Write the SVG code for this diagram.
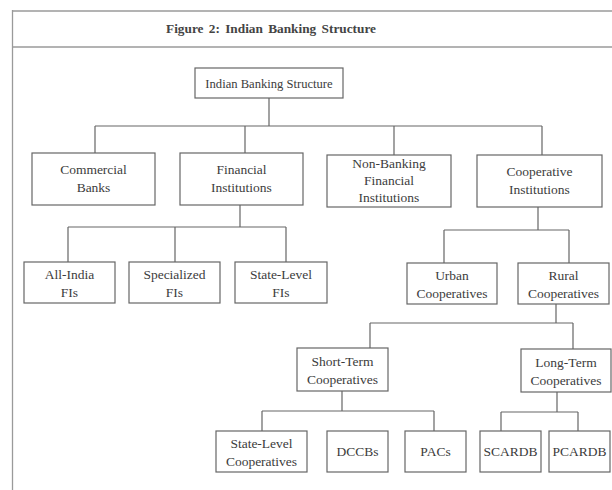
<svg xmlns="http://www.w3.org/2000/svg" width="612" height="490" viewBox="0 0 612 490">
<style>
.frame{stroke:#9a9a9a;stroke-width:1.3;fill:none}
.box{fill:#fff;stroke:#666;stroke-width:1.2}
.t{font-family:"Liberation Serif","Times New Roman",serif;font-size:13.5px;fill:#3c3c3c;text-anchor:middle}
.r{font-size:12.6px}
.title{font-family:"Liberation Serif","Times New Roman",serif;font-size:13.3px;font-weight:bold;fill:#444;text-anchor:middle;word-spacing:2px}
#connectors path{stroke:#666;stroke-width:1.2;fill:none}
</style>
<rect width="612" height="490" fill="#fff"/>
<g id="frame">
<path class="frame" d="M12.5,10 V490 M12,11 H612 M12,47 H612"/>
<text class="title" x="271" y="33">Figure 2: Indian Banking Structure</text>
</g>
<g id="connectors">
<path d="M269,98 V126 M95,126 H542 M95,126 V153 M245,126 V153 M394,126 V155 M542,126 V155"/>
<path d="M240,205 V227 M68,227 H286 M68,227 V262 M175,227 V262 M286,227 V262"/>
<path d="M538,207 V230 M444,230 H569 M444,230 V263 M569,230 V263"/>
<path d="M556,304 V323 M370,323 H573 M370,323 V348 M573,323 V349"/>
<path d="M342,391 V411 M262,411 H434 M262,411 V431 M434,411 V431"/>
<path d="M557,392 V412 M501,412 H578 M501,412 V431 M578,412 V431"/>
</g>
<g id="root"><rect class="box" x="195" y="68" width="148" height="30"/><text class="t r" x="269" y="87.5">Indian Banking Structure</text></g>
<g id="commercial"><rect class="box" x="32" y="153" width="123" height="52"/><text class="t" x="93.5" y="174">Commercial</text><text class="t" x="93.5" y="192">Banks</text></g>
<g id="financial"><rect class="box" x="180" y="153" width="123" height="52"/><text class="t" x="241.5" y="174">Financial</text><text class="t" x="241.5" y="192">Institutions</text></g>
<g id="nbfi"><rect class="box" x="327" y="155" width="124" height="52"/><text class="t" x="389" y="167.5">Non-Banking</text><text class="t" x="389" y="184.5">Financial</text><text class="t" x="389" y="201.5">Institutions</text></g>
<g id="cooperative"><rect class="box" x="477" y="155" width="125" height="52"/><text class="t" x="539.5" y="176">Cooperative</text><text class="t" x="539.5" y="194">Institutions</text></g>
<g id="allindia"><rect class="box" x="24" y="262" width="91" height="41"/><text class="t" x="69.5" y="278.5">All-India</text><text class="t" x="69.5" y="296.5">FIs</text></g>
<g id="specialized"><rect class="box" x="129" y="262" width="91" height="41"/><text class="t" x="174.5" y="278.5">Specialized</text><text class="t" x="174.5" y="296.5">FIs</text></g>
<g id="statefi"><rect class="box" x="235" y="262" width="92" height="41"/><text class="t" x="281" y="278.5">State-Level</text><text class="t" x="281" y="296.5">FIs</text></g>
<g id="urban"><rect class="box" x="407" y="263" width="90" height="41"/><text class="t" x="452" y="279.5">Urban</text><text class="t" x="452" y="297.5">Cooperatives</text></g>
<g id="rural"><rect class="box" x="518" y="263" width="91" height="41"/><text class="t" x="563.5" y="279.5">Rural</text><text class="t" x="563.5" y="297.5">Cooperatives</text></g>
<g id="shortterm"><rect class="box" x="297" y="348" width="91" height="43"/><text class="t" x="342.5" y="366">Short-Term</text><text class="t" x="342.5" y="384">Cooperatives</text></g>
<g id="longterm"><rect class="box" x="521" y="349" width="90" height="43"/><text class="t" x="566" y="367">Long-Term</text><text class="t" x="566" y="385">Cooperatives</text></g>
<g id="statecoop"><rect class="box" x="216" y="431" width="91" height="41"/><text class="t" x="261.5" y="447.5">State-Level</text><text class="t" x="261.5" y="465.5">Cooperatives</text></g>
<g id="dccbs"><rect class="box" x="327" y="431" width="61" height="41"/><text class="t" x="357.5" y="456">DCCBs</text></g>
<g id="pacs"><rect class="box" x="405" y="431" width="61" height="41"/><text class="t" x="435.5" y="456">PACs</text></g>
<g id="scardb"><rect class="box" x="480" y="431" width="61" height="41"/><text class="t" x="510.5" y="456">SCARDB</text></g>
<g id="pcardb"><rect class="box" x="549" y="431" width="61" height="41"/><text class="t" x="579.5" y="456">PCARDB</text></g>
</svg>
